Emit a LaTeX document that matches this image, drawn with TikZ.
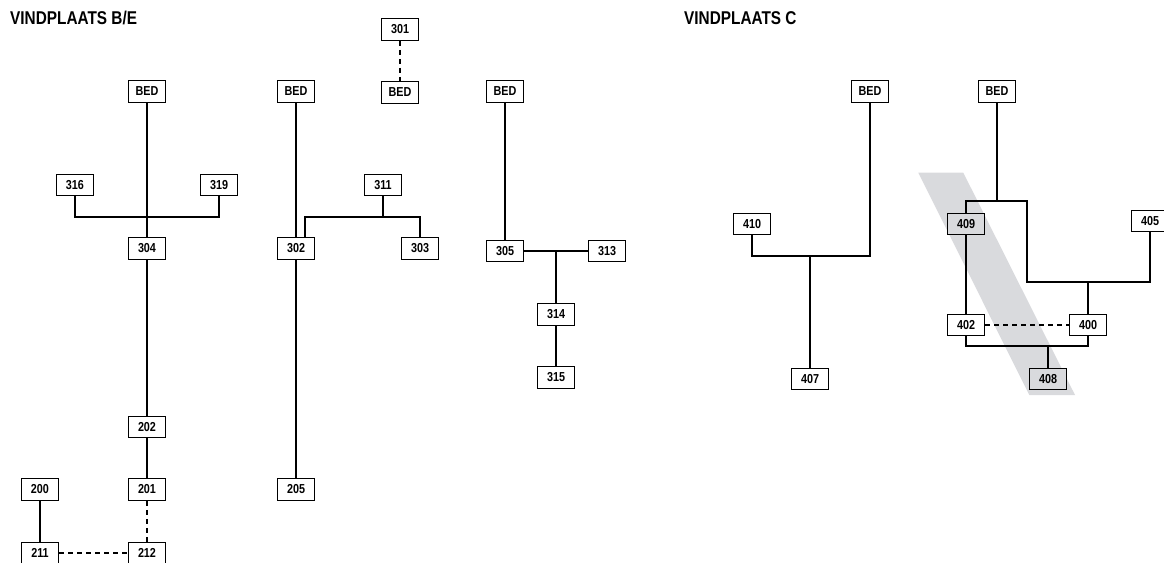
\documentclass[tikz,border=0pt]{standalone}
\usepackage{fontspec}
\setmainfont{Liberation Sans}[FakeStretch=0.83]
\definecolor{bandgray}{RGB}{217,218,221}
\tikzset{
  box/.style={draw=black, line width=1pt, fill=white, minimum width=37pt,
    minimum height=21.5pt, inner sep=0pt, font=\fontsize{13}{14}\selectfont\bfseries},
  greybox/.style={box, fill=bandgray},
  link/.style={line width=1.7pt},
  dlink/.style={link, dash pattern=on 5pt off 4pt},
  title/.style={anchor=base west, inner sep=0pt, font=\fontsize{18.5}{20}\selectfont\bfseries}
}
\begin{document}
\begin{tikzpicture}[x=1pt, y=-1pt]
\useasboundingbox (0,0) rectangle (1164,562);

% shaded band across the C trench
\fill[bandgray] (918.3,172.7) -- (963.3,172.7) -- (1075,395) -- (1029.3,395) -- cycle;

% titles
\node[title] (tBE) at (10,24) {VINDPLAATS B/E};
\node[title] (tC) at (684,24.5) {VINDPLAATS C};

% ---- site B/E, first column
\node[box] (bedA) at (147,91.5) {BED};
\node[box] (n316) at (75,185) {316};
\node[box] (n319) at (219,185) {319};
\node[box] (n304) at (147,248.5) {304};
\node[box] (n202) at (147,427) {202};
\node[box] (n201) at (147,489.5) {201};
\node[box] (n200) at (40,489.5) {200};
\node[box] (n211) at (40,553) {211};
\node[box] (n212) at (147,553) {212};
\coordinate (jBE) at (147,217);

\draw[link] (bedA) -- (n304);
\draw[link] (n316.south) |- (jBE) -| (n319.south);
\draw[link] (n304) -- (n202);
\draw[link] (n202) -- (n201);
\draw[dlink] (n201) -- (n212);
\draw[link] (n200) -- (n211);
\draw[dlink] (n211) -- (n212);

% ---- site B/E, second column
\node[box] (bedB) at (296,91.5) {BED};
\node[box] (n301) at (400,29.5) {301};
\node[box] (bedC) at (400,92.5) {BED};
\node[box] (n311) at (383,185) {311};
\node[box] (n302) at (296,248.5) {302};
\node[box] (n303) at (420,248.5) {303};
\node[box] (n205) at (296,489.5) {205};
\coordinate (j311) at (383,217);

\draw[dlink] (n301) -- (bedC);
\draw[link] (bedB) -- (n302);
\draw[link] (n302) -- (n205);
\draw[link] (n311) -- (j311);
\draw[link] ([xshift=9]n302.north) |- (j311) -| (n303.north);

% ---- site B/E, third column
\node[box] (bedD) at (505,91.5) {BED};
\node[box] (n305) at (505,251) {305};
\node[box] (n313) at (607,251) {313};
\node[box] (n314) at (556,314.5) {314};
\node[box] (n315) at (556,377.5) {315};
\coordinate (j305) at (556,251);

\draw[link] (bedD) -- (n305);
\draw[link] (n305) -- (n313);
\draw[link] (j305) -- (n314);
\draw[link] (n314) -- (n315);

% ---- site C, left group
\node[box] (bedE) at (870,91.5) {BED};
\node[box] (n410) at (752,224) {410};
\node[box] (n407) at (810,379) {407};
\coordinate (j410) at (810,256);

\draw[link] (n410.south) |- (j410) -| (bedE.south);
\draw[link] (j410) -- (n407);

% ---- site C, right group
\node[box] (bedF) at (997,91.5) {BED};
\node[greybox] (n409) at (966,224) {409};
\node[box] (n405) at (1150,221) {405};
\node[box] (n402) at (966,325) {402};
\node[box] (n400) at (1088,325) {400};
\node[greybox] (n408) at (1048,379) {408};
\coordinate (jtop) at (997,201);
\coordinate (jright) at (1027,201);
\coordinate (jmid) at (1088,282);
\coordinate (jlow) at (1048,346);

\draw[link] (bedF) -- (jtop);
\draw[link] (n409.north) |- (jright) |- (jmid) -| (n405.south);
\draw[link] (jmid) -- (n400);
\draw[link] (n409) -- (n402);
\draw[dlink] (n402) -- (n400);
\draw[link] (n402.south) |- (jlow) -| (n400.south);
\draw[link] (jlow) -- (n408);
\end{tikzpicture}
\end{document}
